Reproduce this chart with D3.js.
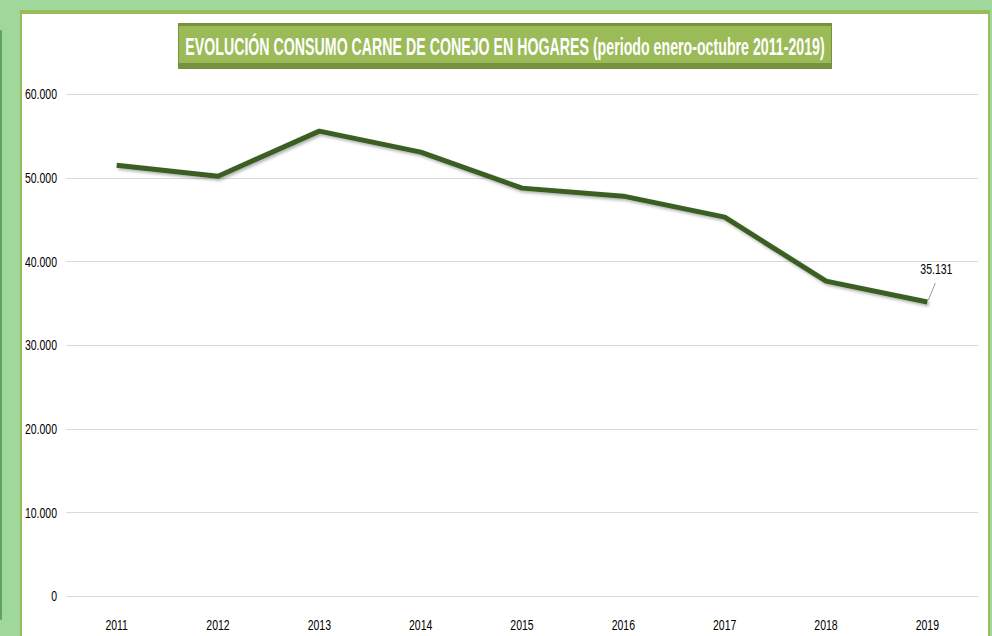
<!DOCTYPE html>
<html>
<head>
<meta charset="utf-8">
<script src="https://cdn.jsdelivr.net/npm/d3@7"></script>
<style>
  body { margin: 0; background: #9fd89a; }
  svg { display: block; }
</style>
</head>
<body>
<svg id="svg" width="992" height="636"></svg>
<script>
// data
var years = ["2011", "2012", "2013", "2014", "2015", "2016", "2017", "2018", "2019"];
var consumo = [51490, 50180, 55560, 53050, 48750, 47790, 45280, 37630, 35131];
var yTicks = [0, 10000, 20000, 30000, 40000, 50000, 60000];
var titulo = "EVOLUCIÓN CONSUMO CARNE DE CONEJO EN HOGARES (periodo enero-octubre  2011-2019)";

var svg = d3.select("svg"),
    width = +svg.attr("width"),
    height = +svg.attr("height");

var es = d3.formatLocale({ decimal: ",", thousands: ".", grouping: [3], currency: ["", " €"] });
var fmt = es.format(",d");
var labelFont = "'Liberation Sans', Arial, sans-serif";

// shadow for the line
var defs = svg.append("defs");
var f = defs.append("filter").attr("id", "shadow")
    .attr("x", "-5%").attr("y", "-20%").attr("width", "110%").attr("height", "150%");
f.append("feDropShadow").attr("dx", 1.5).attr("dy", 2).attr("stdDeviation", 1.5)
    .attr("flood-color", "#000").attr("flood-opacity", 0.3);

// outer frame
svg.append("rect").attr("x", 0).attr("y", 0).attr("width", width).attr("height", height).attr("fill", "#9fd89a");
svg.append("rect").attr("x", 0).attr("y", 30).attr("width", 2).attr("height", 590)
    .attr("fill", "#5fa35a").attr("rx", 1);
svg.append("rect").attr("x", 20).attr("y", 10).attr("width", 970).attr("height", 640).attr("fill", "#9bbb59");
svg.append("rect").attr("x", 22).attr("y", 14).attr("width", 966).attr("height", 640).attr("fill", "#fff");

var x = d3.scaleBand()
    .domain(years)
    .range([66, 978]);

var y = d3.scaleLinear()
    .domain([0, 60000])
    .range([596, 94]);

// gridlines
svg.append("g")
    .selectAll("line")
    .data(yTicks)
    .enter()
    .append("line")
    .attr("x1", 66)
    .attr("x2", 978)
    .attr("y1", function (d) { return Math.round(y(d)) + 0.5; })
    .attr("y2", function (d) { return Math.round(y(d)) + 0.5; })
    .attr("stroke", "#d9d9d9")
    .attr("stroke-width", 1);

// y axis labels (squeezed like the narrow font of the original)
var yAxis = svg.append("g")
    .attr("transform", "translate(57,0)")
    .call(d3.axisLeft(y).tickValues(yTicks).tickSize(0).tickPadding(0).tickFormat(fmt));
yAxis.select(".domain").remove();
yAxis.selectAll("text")
    .attr("transform", "scale(0.7,1)")
    .style("font-family", labelFont)
    .style("font-size", "15px")
    .attr("fill", "#000");

// x axis labels
var xAxis = svg.append("g")
    .attr("transform", "translate(0,619)")
    .call(d3.axisBottom(x).tickSize(0).tickPadding(0));
xAxis.select(".domain").remove();
xAxis.selectAll("text")
    .attr("transform", "scale(0.7,1)")
    .style("font-family", labelFont)
    .style("font-size", "15px")
    .attr("fill", "#000");

// the line
var line = d3.line()
    .x(function (d, i) { return x(years[i]) + x.bandwidth() / 2; })
    .y(function (d) { return y(d); });

svg.append("path")
    .datum(consumo)
    .attr("d", line)
    .attr("fill", "none")
    .attr("stroke", "#3b5e23")
    .attr("stroke-width", 5)
    .attr("stroke-linejoin", "round")
    .attr("filter", "url(#shadow)");

// last value label with leader line
var last = consumo.length - 1;
var lx = x(years[last]) + x.bandwidth() / 2,
    ly = y(consumo[last]);
svg.append("line")
    .attr("x1", lx + 1).attr("y1", ly - 2)
    .attr("x2", lx + 8).attr("y2", ly - 19)
    .attr("stroke", "#7f7f7f")
    .attr("stroke-width", 0.8);
svg.append("text")
    .attr("transform", "translate(" + (lx + 9) + "," + (ly - 28) + ") scale(0.7,1)")
    .attr("text-anchor", "middle")
    .style("font-family", labelFont)
    .style("font-size", "15px")
    .text(fmt(consumo[last]));

// title box
var tb = svg.append("g");
tb.append("rect").attr("x", 178).attr("y", 23).attr("width", 654).attr("height", 46)
    .attr("fill", "#76923c");
tb.append("rect").attr("x", 179).attr("y", 26).attr("width", 652).attr("height", 37)
    .attr("fill", "#9bbb59");
var tt = tb.append("text")
    .attr("text-anchor", "middle")
    .style("font-family", "'Liberation Sans', Arial, sans-serif")
    .style("font-size", "24px")
    .style("font-weight", "bold")
    .attr("fill", "#fff")
    .text(titulo);
// squeeze the title horizontally so it fills the box
var sx = 640 / tt.node().getComputedTextLength();
tt.attr("transform", "translate(505,55) scale(" + sx + ",1)");
</script>
</body>
</html>
